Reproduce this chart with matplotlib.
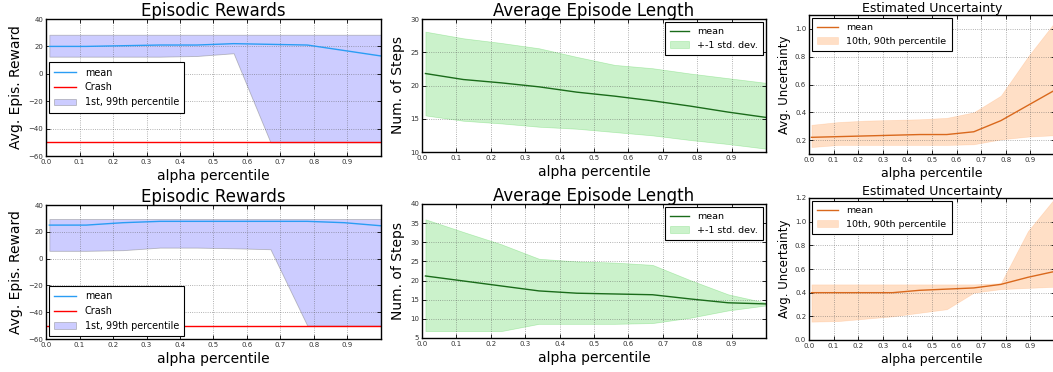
import numpy as np
import matplotlib
matplotlib.use("Agg")
import matplotlib.pyplot as plt

plt.rcParams['font.family'] = ['DejaVu Sans']

# ---------------- data ----------------
alpha = [0.01, 0.12, 0.23, 0.34, 0.45, 0.56, 0.67, 0.78, 0.89, 1.0]
xticks = [0.0, 0.1, 0.2, 0.3, 0.4, 0.5, 0.6, 0.7, 0.8, 0.9]
xticklabels = ["0.0", "0.1", "0.2", "0.3", "0.4", "0.5", "0.6", "0.7", "0.8", "0.9"]

# row 1
rew1_mean = [20.0, 20.0, 20.5, 21.0, 21.0, 22.0, 21.5, 21.0, 17.0, 13.0]
rew1_p01 = [12.5, 12.5, 12.5, 12.5, 13.0, 15.0, -50.0, -50.0, -50.0, -50.0]
rew1_p99 = [28.5, 28.5, 28.5, 28.5, 28.5, 28.5, 28.5, 28.5, 28.5, 28.5]
len1_mean = [21.8, 20.9, 20.4, 19.8, 19.0, 18.4, 17.7, 16.9, 16.0, 15.2]
len1_lo = [15.5, 14.7, 14.3, 13.8, 13.5, 13.0, 12.5, 11.8, 11.2, 10.5]
len1_hi = [28.1, 27.1, 26.4, 25.6, 24.3, 23.1, 22.6, 21.8, 21.1, 20.4]
unc1_mean = [0.22, 0.225, 0.23, 0.235, 0.24, 0.24, 0.26, 0.34, 0.45, 0.56]
unc1_p10 = [0.15, 0.165, 0.165, 0.165, 0.165, 0.165, 0.17, 0.205, 0.225, 0.235]
unc1_p90 = [0.31, 0.33, 0.34, 0.345, 0.35, 0.36, 0.40, 0.52, 0.80, 1.05]

# row 2
rew2_mean = [25.0, 25.0, 26.8, 27.8, 27.8, 27.8, 27.8, 27.8, 26.8, 24.5]
rew2_p01 = [5.8, 5.8, 6.3, 8.2, 8.2, 7.7, 7.0, -50.0, -50.0, -50.0]
rew2_p99 = [29.5, 29.5, 29.5, 29.5, 29.5, 29.5, 29.5, 29.5, 29.5, 29.5]
len2_mean = [21.2, 19.9, 18.6, 17.3, 16.7, 16.5, 16.3, 15.2, 14.2, 13.9]
len2_lo = [6.8, 6.8, 6.8, 8.7, 8.7, 8.7, 8.9, 10.3, 12.2, 13.5]
len2_hi = [36.0, 32.7, 29.5, 25.7, 25.0, 24.7, 24.1, 20.1, 16.4, 14.2]
unc2_mean = [0.40, 0.40, 0.40, 0.40, 0.42, 0.43, 0.44, 0.47, 0.53, 0.58]
unc2_p10 = [0.155, 0.16, 0.18, 0.20, 0.23, 0.26, 0.40, 0.43, 0.44, 0.45]
unc2_p90 = [0.47, 0.47, 0.47, 0.47, 0.47, 0.47, 0.47, 0.48, 0.92, 1.20]

crash = -50

# ---------------- figure ----------------
W, H = 1053, 372
fig = plt.figure(figsize=(W / 100, H / 100), dpi=100)


def px_axes(x0, x1, y0, y1):
    return fig.add_axes([x0 / W, 1 - y1 / H, (x1 - x0) / W, (y1 - y0) / H])


def style(ax, ylim, yticks):
    ax.set_xlim(0, 1.0)
    ax.set_ylim(*ylim)
    ax.set_xticks(xticks)
    ax.set_xticklabels(xticklabels)
    ax.set_yticks(yticks)
    ax.tick_params(direction='in', length=3, width=0.6, labelsize=5,
                   labelcolor='#333333', top=True, right=True, pad=2)
    ax.grid(True, linestyle=':', color='#555555', linewidth=0.6, alpha=0.6)
    for s in ax.spines.values():
        s.set_linewidth(1.0)
        s.set_color('k')


def make_legend(ax, handles, labels, loc, fs, anchor=None, hl=2.0):
    kw = dict(loc=loc, fontsize=fs, fancybox=False, framealpha=1.0,
              edgecolor='k', borderaxespad=0.3, handlelength=hl,
              labelspacing=0.5, borderpad=0.55, handletextpad=0.9)
    if anchor is not None:
        kw['bbox_to_anchor'] = anchor
    lg = ax.legend(handles, labels, **kw)
    lg.get_frame().set_linewidth(0.8)
    return lg


def rewards(ax, mean, p01, p99, legloc, anchor):
    ax.fill_between(alpha, p01, p99, facecolor=(0, 0, 1, 0.2),
                    edgecolor=(0.5, 0.5, 0.5, 0.5), linewidth=0.6,
                    label='1st, 99th percentile')
    ax.plot(alpha, mean, color='#2a9df4', linewidth=1.0, label='mean')
    ax.axhline(crash, color='red', linewidth=1.0, label='Crash')
    style(ax, (-60, 40), [-60, -40, -20, 0, 20, 40])
    ax.set_title('Episodic Rewards', fontsize=12, pad=2)
    ax.set_xlabel('alpha percentile', fontsize=10, labelpad=3)
    ax.set_ylabel('Avg. Epis. Reward', fontsize=10, labelpad=4)
    h, l = ax.get_legend_handles_labels()
    order = [l.index('mean'), l.index('Crash'), l.index('1st, 99th percentile')]
    make_legend(ax, [h[i] for i in order], [l[i] for i in order], legloc,
                6.9, anchor, hl=2.3)


def length(ax, mean, lo, hi, ylim, yticks):
    ax.fill_between(alpha, lo, hi, facecolor=(0.2, 0.8, 0.2, 0.25),
                    edgecolor=(0.2, 0.8, 0.2, 0.3), linewidth=0.5,
                    label='+-1 std. dev.')
    ax.plot(alpha, mean, color='#1a6b1a', linewidth=1.0, label='mean')
    style(ax, ylim, yticks)
    ax.set_title('Average Episode Length', fontsize=12, pad=2)
    ax.set_xlabel('alpha percentile', fontsize=10, labelpad=3)
    ax.set_ylabel('Num. of Steps', fontsize=10, labelpad=4)
    h, l = ax.get_legend_handles_labels()
    make_legend(ax, [h[1], h[0]], [l[1], l[0]], 'upper right', 6.8, hl=2.0)


def uncert(ax, mean, p10, p90, ylim, yticks):
    ax.fill_between(alpha, p10, p90, facecolor=(1.0, 0.55, 0.2, 0.28),
                    edgecolor=(1.0, 0.55, 0.2, 0.2), linewidth=0.5,
                    label='10th, 90th percentile')
    ax.plot(alpha, mean, color='#d9681c', linewidth=1.0, label='mean')
    style(ax, ylim, yticks)
    ax.set_title('Estimated Uncertainty', fontsize=9, pad=2)
    ax.set_xlabel('alpha percentile', fontsize=9, labelpad=3)
    ax.set_ylabel('Avg. Uncertainty', fontsize=8.5, labelpad=3)
    h, l = ax.get_legend_handles_labels()
    make_legend(ax, [h[1], h[0]], [l[1], l[0]], 'upper left', 6.8, hl=2.2)


# top row
ax1 = px_axes(46, 381, 19, 156)
rewards(ax1, rew1_mean, rew1_p01, rew1_p99, 'center left', (0.0, 0.5))
ax2 = px_axes(422, 766, 19, 152)
length(ax2, len1_mean, len1_lo, len1_hi, (10, 30), [10, 15, 20, 25, 30])
ax3 = px_axes(809, 1055, 15, 154)
uncert(ax3, unc1_mean, unc1_p10, unc1_p90, (0.1, 1.1), [0.2, 0.4, 0.6, 0.8, 1.0])

# bottom row
ax4 = px_axes(46, 381, 205, 339)
rewards(ax4, rew2_mean, rew2_p01, rew2_p99, 'lower left', (0.0, 0.0))
ax5 = px_axes(422, 766, 204, 338)
length(ax5, len2_mean, len2_lo, len2_hi, (5, 40), [5, 10, 15, 20, 25, 30, 35, 40])
ax6 = px_axes(809, 1055, 198, 340)
uncert(ax6, unc2_mean, unc2_p10, unc2_p90, (0.0, 1.2), [0.0, 0.2, 0.4, 0.6, 0.8, 1.0, 1.2])

fig.savefig('out.png', dpi=100)
